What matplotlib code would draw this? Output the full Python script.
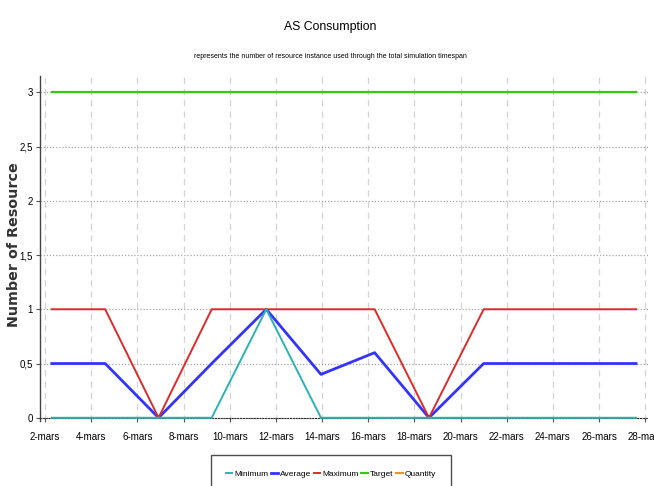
import matplotlib
matplotlib.use("Agg")
import matplotlib.pyplot as plt
import matplotlib.dates as mdates
from matplotlib.ticker import FuncFormatter
import pandas as pd

# sample times (march) and the resource counts
times = ["2012-03-02 07:00", "2012-03-04 14:30", "2012-03-06 22:00", "2012-03-09 05:15",
         "2012-03-11 14:00", "2012-03-13 22:50", "2012-03-16 06:40", "2012-03-18 15:10",
         "2012-03-21 00:00", "2012-03-23 08:00", "2012-03-25 15:00", "2012-03-27 14:30"]
minimum = [0, 0, 0, 0, 1, 0, 0, 0, 0, 0, 0, 0]
average = [0.5, 0.5, 0, 0.5, 1, 0.4, 0.6, 0, 0.5, 0.5, 0.5, 0.5]
maximum = [1, 1, 0, 1, 1, 1, 1, 0, 1, 1, 1, 1]
target = [3, 3, 3, 3, 3, 3, 3, 3, 3, 3, 3, 3]
quantity = []  # no quantity values shown

y_ticks = [0, 0.5, 1, 1.5, 2, 2.5, 3]

narrow = ["Liberation Sans", "DejaVu Sans"]

dates = pd.to_datetime(times)

fig = plt.figure(figsize=(6.54, 4.86), dpi=100)
ax = fig.add_axes([0.0612, 0.1337, 0.9298, 0.7099])

ax.plot(dates, minimum, color="#2bb3b3", lw=1.4, label="Minimum", zorder=4)
ax.plot(dates, average, color="#3333ff", lw=2.0, label="Average", zorder=3)
ax.plot(dates, maximum, color="#dd2b2b", lw=1.4, label="Maximum", zorder=3)
ax.plot(dates, target, color="#33cc11", lw=1.6, label="Target", zorder=3)
ax.plot(dates[:len(quantity)], quantity, color="#e8923a", lw=1.6, label="Quantity")

ax.set_xlim(pd.Timestamp("2012-03-01 18:45"), pd.Timestamp("2012-03-28 03:00"))
ax.set_ylim(-0.03, 3.15)

ax.xaxis.set_major_locator(mdates.DayLocator(bymonthday=range(2, 29, 2)))
ax.xaxis.set_major_formatter(FuncFormatter(lambda v, p: f"{mdates.num2date(v).day}-mars"))
ax.set_yticks(y_ticks)
ax.yaxis.set_major_formatter(FuncFormatter(lambda v, p: f"{v:g}".replace(".", ",")))

ax.grid(axis="x", color="#d4d4d4", linestyle=(0, (5, 4)), lw=0.9)
ax.grid(axis="y", color="#a8a8a8", linestyle=(0, (1, 1.5)), lw=0.9)
ax.set_axisbelow(True)

for s in ("top", "right"):
    ax.spines[s].set_visible(False)
ax.spines["left"].set_color("#444444")
ax.spines["left"].set_linewidth(1.0)
ax.spines["bottom"].set_position(("data", 0))
ax.spines["bottom"].set_linestyle((0, (1, 1.5)))
ax.spines["bottom"].set_color("#333333")

ax.tick_params(axis="both", length=3, width=0.8, color="#555555")
ax.tick_params(axis="x", pad=7)
ax.tick_params(axis="y", pad=2)
for lab in ax.get_xticklabels():
    lab.set_family(narrow)
    lab.set_fontsize(7)
for lab in ax.get_yticklabels():
    lab.set_family(narrow)
    lab.set_fontsize(7)

ax.set_ylabel("Number of Resource", fontsize=10.3, fontweight="bold", color="#333333")
ax.yaxis.set_label_coords(-0.031, 0.51)

fig.text(0.505, 0.945, "AS Consumption", ha="center", va="center", fontsize=8.8, family=narrow)
fig.text(0.505, 0.884, "represents the number of resource instance used through the total simulation timespan",
         ha="center", va="center", fontsize=5.0, family=narrow)

leg = fig.legend(loc="upper center", bbox_to_anchor=(0.506, 0.064), ncol=5, frameon=True,
                 fancybox=False, edgecolor="#222222", handlelength=0.8,
                 handletextpad=0.25, columnspacing=0.3, borderpad=1.8, borderaxespad=0,
                 prop={"family": narrow, "size": 6.0})
leg.get_frame().set_linewidth(1.0)

fig.savefig("out.png", dpi=100)
